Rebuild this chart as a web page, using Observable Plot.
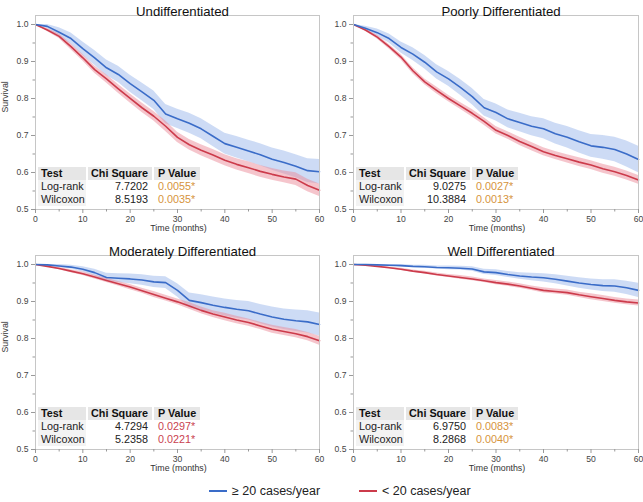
<!DOCTYPE html>
<html><head><meta charset="utf-8">
<script src="https://cdn.jsdelivr.net/npm/d3@7"></script>
<script src="https://cdn.jsdelivr.net/npm/@observablehq/plot@0.6"></script>
<style>
body{margin:0;background:#fff;font-family:"Liberation Sans",Arial,Helvetica,sans-serif;}
#chart{position:relative;width:643px;height:502px;overflow:hidden;background:#fff;}
.panel{position:absolute;}
.cell{position:absolute;height:13px;line-height:13px;font-size:10.8px;color:#222;white-space:nowrap;box-sizing:border-box;}
.hdr{background:#e6e6e6;font-weight:bold;color:#111;}
.lab{background:#f3f3f3;}
.leg{position:absolute;font-size:12.5px;color:#222;white-space:nowrap;line-height:16px;}
.leg span.ln{display:inline-block;width:18px;height:2px;vertical-align:middle;margin-right:5px;position:relative;top:-1px;}
</style></head><body><div id="chart"></div><script>
// ---- data ----
const months = [0,2.5,5,7.5,10,12.5,15,17.5,20,22.5,25,27.5,30,32.5,35,37.5,40,42.5,45,47.5,50,52.5,55,57.5,60];

const undiffHigh   = [1.0,0.995,0.979,0.962,0.935,0.91,0.883,0.865,0.84,0.818,0.795,0.758,0.745,0.733,0.718,0.698,0.678,0.668,0.658,0.648,0.636,0.627,0.617,0.605,0.602];
const undiffHighCI = [0,0.006,0.012,0.015,0.018,0.02,0.021,0.022,0.023,0.024,0.025,0.026,0.026,0.027,0.027,0.028,0.028,0.029,0.029,0.03,0.03,0.031,0.031,0.032,0.033];
const undiffLow    = [1.0,0.985,0.968,0.94,0.91,0.878,0.853,0.826,0.80,0.775,0.752,0.725,0.695,0.675,0.66,0.647,0.633,0.622,0.613,0.603,0.595,0.588,0.582,0.565,0.552];
const undiffLowCI  = [0,0.004,0.006,0.008,0.009,0.01,0.011,0.012,0.012,0.013,0.013,0.014,0.014,0.014,0.015,0.015,0.015,0.015,0.016,0.016,0.016,0.016,0.017,0.017,0.017];

const poorHigh   = [1.0,0.99,0.978,0.962,0.938,0.92,0.898,0.872,0.853,0.83,0.805,0.775,0.762,0.745,0.735,0.725,0.718,0.705,0.695,0.683,0.672,0.668,0.662,0.65,0.635];
const poorHighCI = [0,0.005,0.01,0.012,0.015,0.017,0.018,0.019,0.02,0.021,0.022,0.022,0.023,0.024,0.025,0.026,0.027,0.028,0.029,0.03,0.031,0.032,0.033,0.035,0.036];
const poorLow    = [1.0,0.985,0.966,0.94,0.912,0.875,0.845,0.822,0.80,0.78,0.76,0.738,0.714,0.70,0.684,0.67,0.656,0.646,0.637,0.628,0.62,0.61,0.602,0.592,0.58];
const poorLowCI  = [0,0.003,0.005,0.006,0.007,0.008,0.008,0.009,0.009,0.009,0.01,0.01,0.01,0.01,0.011,0.011,0.011,0.011,0.011,0.012,0.012,0.012,0.012,0.012,0.012];

const modHigh   = [1.0,0.999,0.996,0.993,0.987,0.978,0.965,0.963,0.961,0.958,0.953,0.951,0.93,0.903,0.897,0.89,0.884,0.879,0.875,0.866,0.858,0.852,0.848,0.845,0.838];
const modHighCI = [0,0.002,0.004,0.005,0.007,0.009,0.011,0.012,0.013,0.014,0.015,0.016,0.018,0.02,0.021,0.022,0.023,0.024,0.025,0.026,0.027,0.028,0.029,0.03,0.031];
const modLow    = [1.0,0.995,0.989,0.982,0.975,0.966,0.957,0.948,0.939,0.929,0.919,0.909,0.899,0.888,0.876,0.866,0.858,0.85,0.843,0.834,0.825,0.819,0.813,0.805,0.794];
const modLowCI  = [0,0.002,0.003,0.004,0.005,0.005,0.006,0.006,0.007,0.007,0.008,0.008,0.008,0.009,0.009,0.009,0.01,0.01,0.01,0.01,0.011,0.011,0.011,0.011,0.012];

const wellHigh   = [1.0,1.0,0.999,0.998,0.997,0.995,0.994,0.992,0.991,0.99,0.988,0.98,0.978,0.973,0.969,0.966,0.964,0.96,0.955,0.95,0.946,0.943,0.942,0.937,0.93];
const wellHighCI = [0,0.001,0.002,0.002,0.003,0.003,0.004,0.004,0.005,0.005,0.006,0.007,0.008,0.008,0.009,0.01,0.011,0.012,0.013,0.014,0.015,0.016,0.017,0.018,0.019];
const wellLow    = [1.0,0.998,0.995,0.991,0.987,0.982,0.978,0.973,0.969,0.965,0.961,0.956,0.951,0.947,0.942,0.936,0.93,0.927,0.924,0.918,0.913,0.908,0.903,0.899,0.896];
const wellLowCI  = [0,0.001,0.002,0.002,0.003,0.003,0.004,0.004,0.004,0.005,0.005,0.005,0.006,0.006,0.006,0.006,0.007,0.007,0.007,0.007,0.008,0.008,0.008,0.008,0.008];

const panelTitles = ["Undifferentiated","Poorly Differentiated","Moderately Differentiated","Well Differentiated"];
const testNames = ["Log-rank","Wilcoxon"];
const tableHeaders = ["Test","Chi Square","P Value"];
const chiUndiff = ["7.7202","8.5193"], pUndiff = ["0.0055*","0.0035*"];
const chiPoor   = ["9.0275","10.3884"], pPoor = ["0.0027*","0.0013*"];
const chiMod    = ["4.7294","5.2358"], pMod = ["0.0297*","0.0221*"];
const chiWell   = ["6.9750","8.2868"], pWell = ["0.0083*","0.0040*"];

const seriesNames = ["\u2265 20 cases/year","< 20 cases/year"];
const xMajor = [0,10,20,30,40,50,60];
const xMinor = [5,15,25,35,45,55];
const yMajor = [0.5,0.6,0.7,0.8,0.9,1.0];
const yMinor = [0.55,0.65,0.75,0.85,0.95];

// ---- styles ----
const BLUE = "#3a6cc8", RED = "#cc3b4b";
const BLUE_BAND = "#9bb8ec", RED_BAND = "#eb8b99";
const FONT = '"Liberation Sans", Arial, Helvetica, sans-serif';

const panels = [
  {title: panelTitles[0], high: undiffHigh, highCI: undiffHighCI, low: undiffLow, lowCI: undiffLowCI, chi: chiUndiff, p: pUndiff, left: 0, top: 0, width: 322, ylab: true},
  {title: panelTitles[1], high: poorHigh, highCI: poorHighCI, low: poorLow, lowCI: poorLowCI, chi: chiPoor, p: pPoor, left: 318, top: 0, width: 323, ylab: false},
  {title: panelTitles[2], high: modHigh, highCI: modHighCI, low: modLow, lowCI: modLowCI, chi: chiMod, p: pMod, left: 0, top: 240, width: 322, ylab: true},
  {title: panelTitles[3], high: wellHigh, highCI: wellHighCI, low: wellLow, lowCI: wellLowCI, chi: chiWell, p: pWell, left: 318, top: 240, width: 323, ylab: false}
];

const chart = document.getElementById("chart");

for (const cfg of panels) {
  const rows = months.map((t, i) => ({
    t,
    hi: cfg.high[i], hiA: cfg.high[i] - cfg.highCI[i], hiB: Math.min(1, cfg.high[i] + cfg.highCI[i]),
    lo: cfg.low[i], loA: cfg.low[i] - cfg.lowCI[i], loB: Math.min(1, cfg.low[i] + cfg.lowCI[i])
  }));
  const marks = [
    Plot.areaY(rows, {x: "t", y1: "hiA", y2: "hiB", fill: BLUE_BAND, fillOpacity: 0.5}),
    Plot.areaY(rows, {x: "t", y1: "loA", y2: "loB", fill: RED_BAND, fillOpacity: 0.5}),
    Plot.lineY(rows, {x: "t", y: "lo", stroke: RED, strokeWidth: 1.6}),
    Plot.lineY(rows, {x: "t", y: "hi", stroke: BLUE, strokeWidth: 1.6}),
    Plot.frame({stroke: "#c6c6c6"}),
    Plot.axisX({ticks: xMajor, tickSize: 4, tickPadding: 2, label: null, stroke: "#999", fill: "#444"}),
    Plot.axisX({ticks: xMinor, tickSize: 2.5, tickFormat: () => "", label: null, stroke: "#999"}),
    Plot.axisY({ticks: yMajor, tickSize: 4, tickPadding: 3, tickFormat: d3.format(".1f"), label: null, stroke: "#999", fill: "#444"}),
    Plot.axisY({ticks: yMinor, tickSize: 2.5, tickFormat: () => "", label: null, stroke: "#999"}),
    Plot.text([cfg.title], {text: d => d, frameAnchor: "top", dy: -8.5, dx: 5, fontSize: 13.2, fill: "#111"}),
    Plot.text(["Time (months)"], {text: d => d, frameAnchor: "bottom", dy: 21, dx: 1, fontSize: 8.8, fill: "#333"})
  ];
  if (cfg.ylab) marks.push(Plot.text(["Survival"], {text: d => d, frameAnchor: "left", rotate: -90, dx: -30, fontSize: 8.8, fill: "#333"}));
  const svg = Plot.plot({
    width: cfg.width, height: 240,
    marginLeft: 35, marginRight: 3, marginTop: 15, marginBottom: 31,
    style: {fontFamily: FONT, fontSize: "8.6px", background: "transparent", overflow: "visible"},
    x: {domain: [0, 60]},
    y: {domain: [0.5, 1.0243]},
    marks
  });
  svg.classList.add("panel");
  svg.style.left = cfg.left + "px";
  svg.style.top = cfg.top + "px";
  chart.appendChild(svg);

  // stats table
  const tx = cfg.left + 38, ty = cfg.top + 167;
  const cols = [{x: 0, w: 48, align: "left"}, {x: 50, w: 64, align: "right"}, {x: 116, w: 46, align: "left"}];
  const addCell = (text, col, row, cls, color) => {
    const d = document.createElement("div");
    d.className = "cell " + cls;
    d.textContent = text;
    d.style.left = (tx + col.x) + "px";
    d.style.top = (ty + row * 12.6 + (row > 0 ? 0.5 : 0)) + "px";
    d.style.width = col.w + "px";
    d.style.textAlign = col.align;
    d.style.paddingLeft = col.align === "left" ? (col === cols[2] ? "4px" : "3px") : "0";
    d.style.paddingRight = col.align === "right" ? "4px" : "0";
    if (color) d.style.color = color;
    chart.appendChild(d);
  };
  tableHeaders.forEach((h, j) => addCell(h, cols[j], 0, "hdr"));
  testNames.forEach((n, i) => {
    addCell(n, cols[0], i + 1, "lab");
    addCell(cfg.chi[i], cols[1], i + 1, "");
    const pv = parseFloat(cfg.p[i]);
    addCell(cfg.p[i], cols[2], i + 1, "", pv < 0.01 ? "#d6943c" : "#c9414f");
  });
}

// legend
const legendColors = [BLUE, RED];
const legendX = [209, 359];
seriesNames.forEach((name, i) => {
  const d = document.createElement("div");
  d.className = "leg";
  d.style.left = legendX[i] + "px";
  d.style.top = "483px";
  d.innerHTML = `<span class="ln" style="background:${legendColors[i]}"></span>`;
  d.appendChild(document.createTextNode(name));
  chart.appendChild(d);
});
</script></body></html>
